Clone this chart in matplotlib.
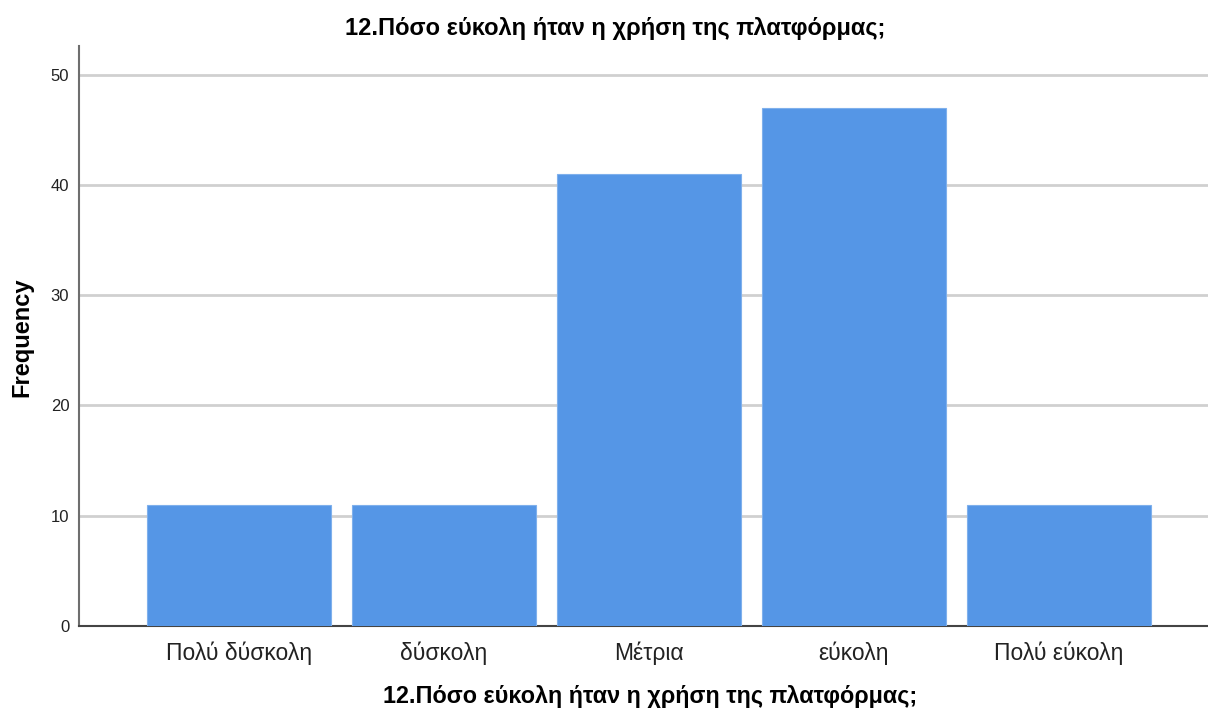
import matplotlib
matplotlib.use("Agg")
import matplotlib.pyplot as plt

categories = ["Πολύ δύσκολη", "δύσκολη", "Μέτρια", "εύκολη", "Πολύ εύκολη"]
frequencies = [11, 11, 41, 47, 11]
title = "12.Πόσο εύκολη ήταν η χρήση της πλατφόρμας;"
yticks = [0, 10, 20, 30, 40, 50]

plt.rcParams['font.family'] = ['Liberation Sans', 'DejaVu Sans']

fig = plt.figure(figsize=(12.08, 7.11), dpi=100)
ax = fig.add_axes([79/1208, 1 - 626/711, (1208 - 79)/1208, (626 - 46)/711])

x = list(range(len(categories)))
ax.bar(x, frequencies, width=0.9, color="#5596E6", edgecolor="#7FB0EC", linewidth=0.8, zorder=3)

ax.set_xlim(-0.78, 4.727)
ax.set_ylim(0, 52.6)
ax.set_yticks(yticks)
ax.set_xticks(x)
ax.set_xticklabels(categories, fontsize=16.5, color="#222222")
ax.tick_params(axis='x', length=0, pad=11)
ax.tick_params(axis='y', length=0, pad=7, labelsize=12, labelcolor="#222222")

ax.yaxis.grid(True, color="#D0D0D0", linewidth=2, zorder=0)
ax.xaxis.grid(False)
for s in ["top", "right"]:
    ax.spines[s].set_visible(False)
ax.spines["left"].set_color("#6E6E6E")
ax.spines["bottom"].set_color("#444444")
ax.spines["left"].set_linewidth(1.5)
ax.spines["bottom"].set_linewidth(1.5)

fig.text(615/1208, 1 - 28/711, title, ha="center", va="center", fontsize=17, fontweight="bold")
fig.text(650/1208, 1 - 696/711, title, ha="center", va="center", fontsize=16.8, fontweight="bold")
fig.text(22/1208, 1 - 337/711, "Frequency", ha="center", va="center", rotation=90, fontsize=17, fontweight="bold")

fig.savefig("out.png", dpi=100)
